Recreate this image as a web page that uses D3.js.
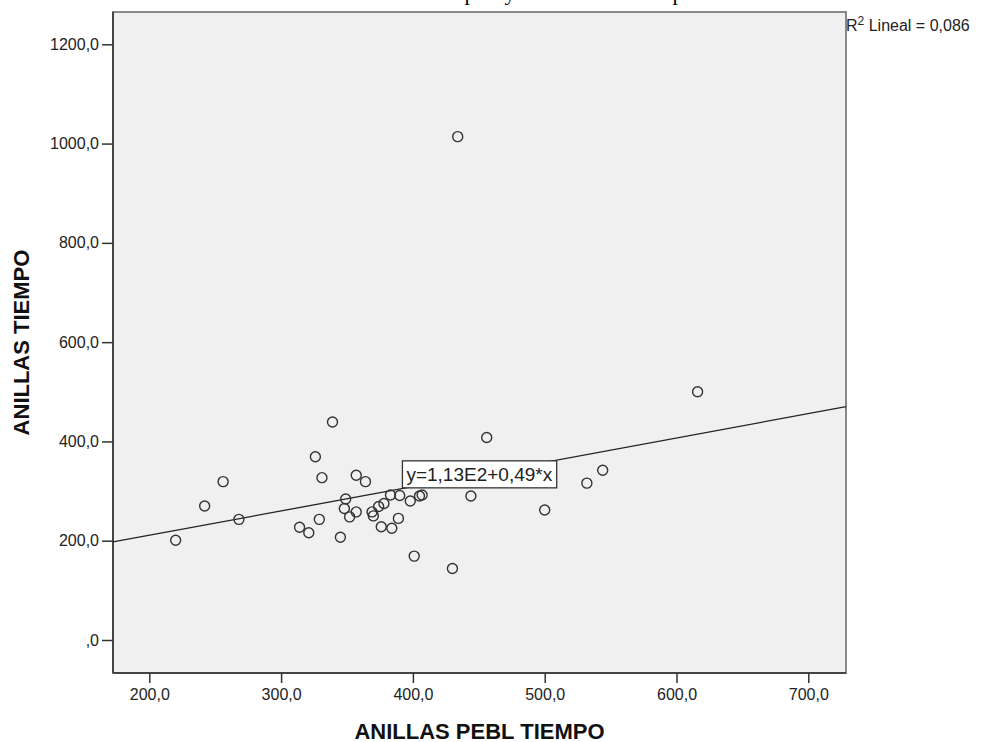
<!DOCTYPE html>
<html>
<head>
<meta charset="utf-8">
<script src="https://cdn.jsdelivr.net/npm/d3@7"></script>
<style>
  body { margin: 0; background: #fff; }
  svg { display: block; font-family: "Liberation Sans", Arial, sans-serif; }
</style>
</head>
<body>
<div id="chart"></div>
<script>
// scatter data (x = ANILLAS PEBL TIEMPO, y = ANILLAS TIEMPO)
const pointsX = [434, 616, 456, 339, 326, 256, 331, 357, 364, 242, 268, 220, 349, 348, 357, 352, 329, 314, 321,
  345, 383, 390, 398, 405, 407, 378, 374, 369, 370, 389, 376, 384, 401, 430, 444, 532, 544, 500];
const pointsY = [1014, 500, 408, 439, 369, 319, 327, 332, 319, 270, 243, 201, 284, 265, 258, 248, 243, 227, 216,
  207, 292, 291, 280, 290, 292, 275, 269, 258, 250, 245, 228, 225, 169, 144, 290, 316, 342, 262];

const xTicks = [200, 300, 400, 500, 600, 700];
const yTicks = [0, 200, 400, 600, 800, 1000, 1200];

// linear fit shown on the chart
const fitIntercept = 113;
const fitSlope = 0.49;
const fitLabel = 'y=1,13E2+0,49*x';
const r2Value = '0,086';

const width = 981, height = 742;
const frame = { left: 113, right: 846, top: 12, bottom: 673 };

const x = d3.scaleLinear().domain([200, 700]).range([149.3, 808.3]);
const y = d3.scaleLinear().domain([0, 1200]).range([640, 44.3]);

const fmt = v => v === 0 ? ',0' : v.toFixed(1).replace('.', ',');

const svg = d3.select('#chart').append('svg')
  .attr('width', width)
  .attr('height', height);

// caption above the chart, cut off by the page edge (only descenders show)
const caption = svg.append('g')
  .attr('font-family', '"Liberation Serif", "Times New Roman", serif')
  .attr('font-size', 22)
  .attr('fill', '#000');
[['p', 470], ['y', 510], ['p', 678]].forEach(([t, cx]) => {
  caption.append('text').attr('x', cx).attr('y', 0).attr('text-anchor', 'middle').text(t);
});

// plot background
svg.append('rect')
  .attr('x', frame.left)
  .attr('y', frame.top)
  .attr('width', frame.right - frame.left)
  .attr('height', frame.bottom - frame.top)
  .attr('fill', '#f0f0f0')
  .attr('stroke', '#888')
  .attr('stroke-width', 2);

// axis lines (darker, left and bottom)
svg.append('line')
  .attr('x1', frame.left).attr('x2', frame.left)
  .attr('y1', frame.top).attr('y2', frame.bottom)
  .attr('stroke', '#444').attr('stroke-width', 2);
svg.append('line')
  .attr('x1', frame.left).attr('x2', frame.right)
  .attr('y1', frame.bottom).attr('y2', frame.bottom)
  .attr('stroke', '#444').attr('stroke-width', 2);

// y axis
const yAxis = d3.axisLeft(y)
  .tickValues(yTicks)
  .tickFormat(fmt)
  .tickSize(11)
  .tickPadding(3);

const gy = svg.append('g')
  .attr('transform', `translate(${frame.left},0)`)
  .call(yAxis);
gy.select('.domain').remove();
gy.selectAll('.tick line').attr('stroke', '#333').attr('stroke-width', 1.5);
gy.selectAll('.tick text')
  .attr('font-size', 16)
  .attr('fill', '#222')
  .attr('font-family', '"Liberation Sans", Arial, sans-serif');

// x axis
const xAxis = d3.axisBottom(x)
  .tickValues(xTicks)
  .tickFormat(fmt)
  .tickSize(10)
  .tickPadding(6);

const gx = svg.append('g')
  .attr('transform', `translate(0,${frame.bottom})`)
  .call(xAxis);
gx.select('.domain').remove();
gx.selectAll('.tick line').attr('stroke', '#333').attr('stroke-width', 1.5);
gx.selectAll('.tick text')
  .attr('font-size', 16)
  .attr('fill', '#222')
  .attr('font-family', '"Liberation Sans", Arial, sans-serif');

// axis titles
svg.append('text')
  .attr('x', (frame.left + frame.right) / 2)
  .attr('y', 739)
  .attr('text-anchor', 'middle')
  .attr('font-size', 22)
  .attr('font-weight', 'bold')
  .attr('fill', '#111')
  .text('ANILLAS PEBL TIEMPO');

svg.append('text')
  .attr('transform', `translate(29,${(frame.top + frame.bottom) / 2}) rotate(-90)`)
  .attr('text-anchor', 'middle')
  .attr('font-size', 22)
  .attr('font-weight', 'bold')
  .attr('fill', '#111')
  .text('ANILLAS TIEMPO');

// fit line across the frame
const xMin = x.invert(frame.left), xMax = x.invert(frame.right);
const fit = v => fitIntercept + fitSlope * v;

svg.append('line')
  .attr('x1', x(xMin)).attr('y1', y(fit(xMin)))
  .attr('x2', x(xMax)).attr('y2', y(fit(xMax)))
  .attr('stroke', '#222')
  .attr('stroke-width', 1.3);

// points
svg.append('g')
  .selectAll('circle')
  .data(pointsX.map((v, i) => [v, pointsY[i]]))
  .join('circle')
  .attr('cx', d => x(d[0]))
  .attr('cy', d => y(d[1]))
  .attr('r', 5)
  .attr('fill', 'none')
  .attr('stroke', '#333')
  .attr('stroke-width', 1.4);

// equation label sitting on the fit line
const labelX = 450.4;
const lg = svg.append('g');
const lt = lg.append('text')
  .attr('x', x(labelX))
  .attr('y', y(fit(labelX)))
  .attr('text-anchor', 'middle')
  .attr('dominant-baseline', 'central')
  .attr('font-size', 19)
  .attr('fill', '#222')
  .text(fitLabel);
const bb = lt.node().getBBox();
lg.insert('rect', 'text')
  .attr('x', bb.x - 4)
  .attr('y', bb.y - 3)
  .attr('width', bb.width + 8)
  .attr('height', bb.height + 6)
  .attr('fill', '#fff')
  .attr('stroke', '#333')
  .attr('stroke-width', 1.3);

// R squared note
const r2 = svg.append('text')
  .attr('x', frame.right)
  .attr('y', 31)
  .attr('font-size', 16)
  .attr('fill', '#222');
r2.append('tspan').text('R');
r2.append('tspan').attr('dy', -6).attr('font-size', 12).text('2');
r2.append('tspan').attr('dy', 6).text(' Lineal = ' + r2Value);
</script>
</body>
</html>
